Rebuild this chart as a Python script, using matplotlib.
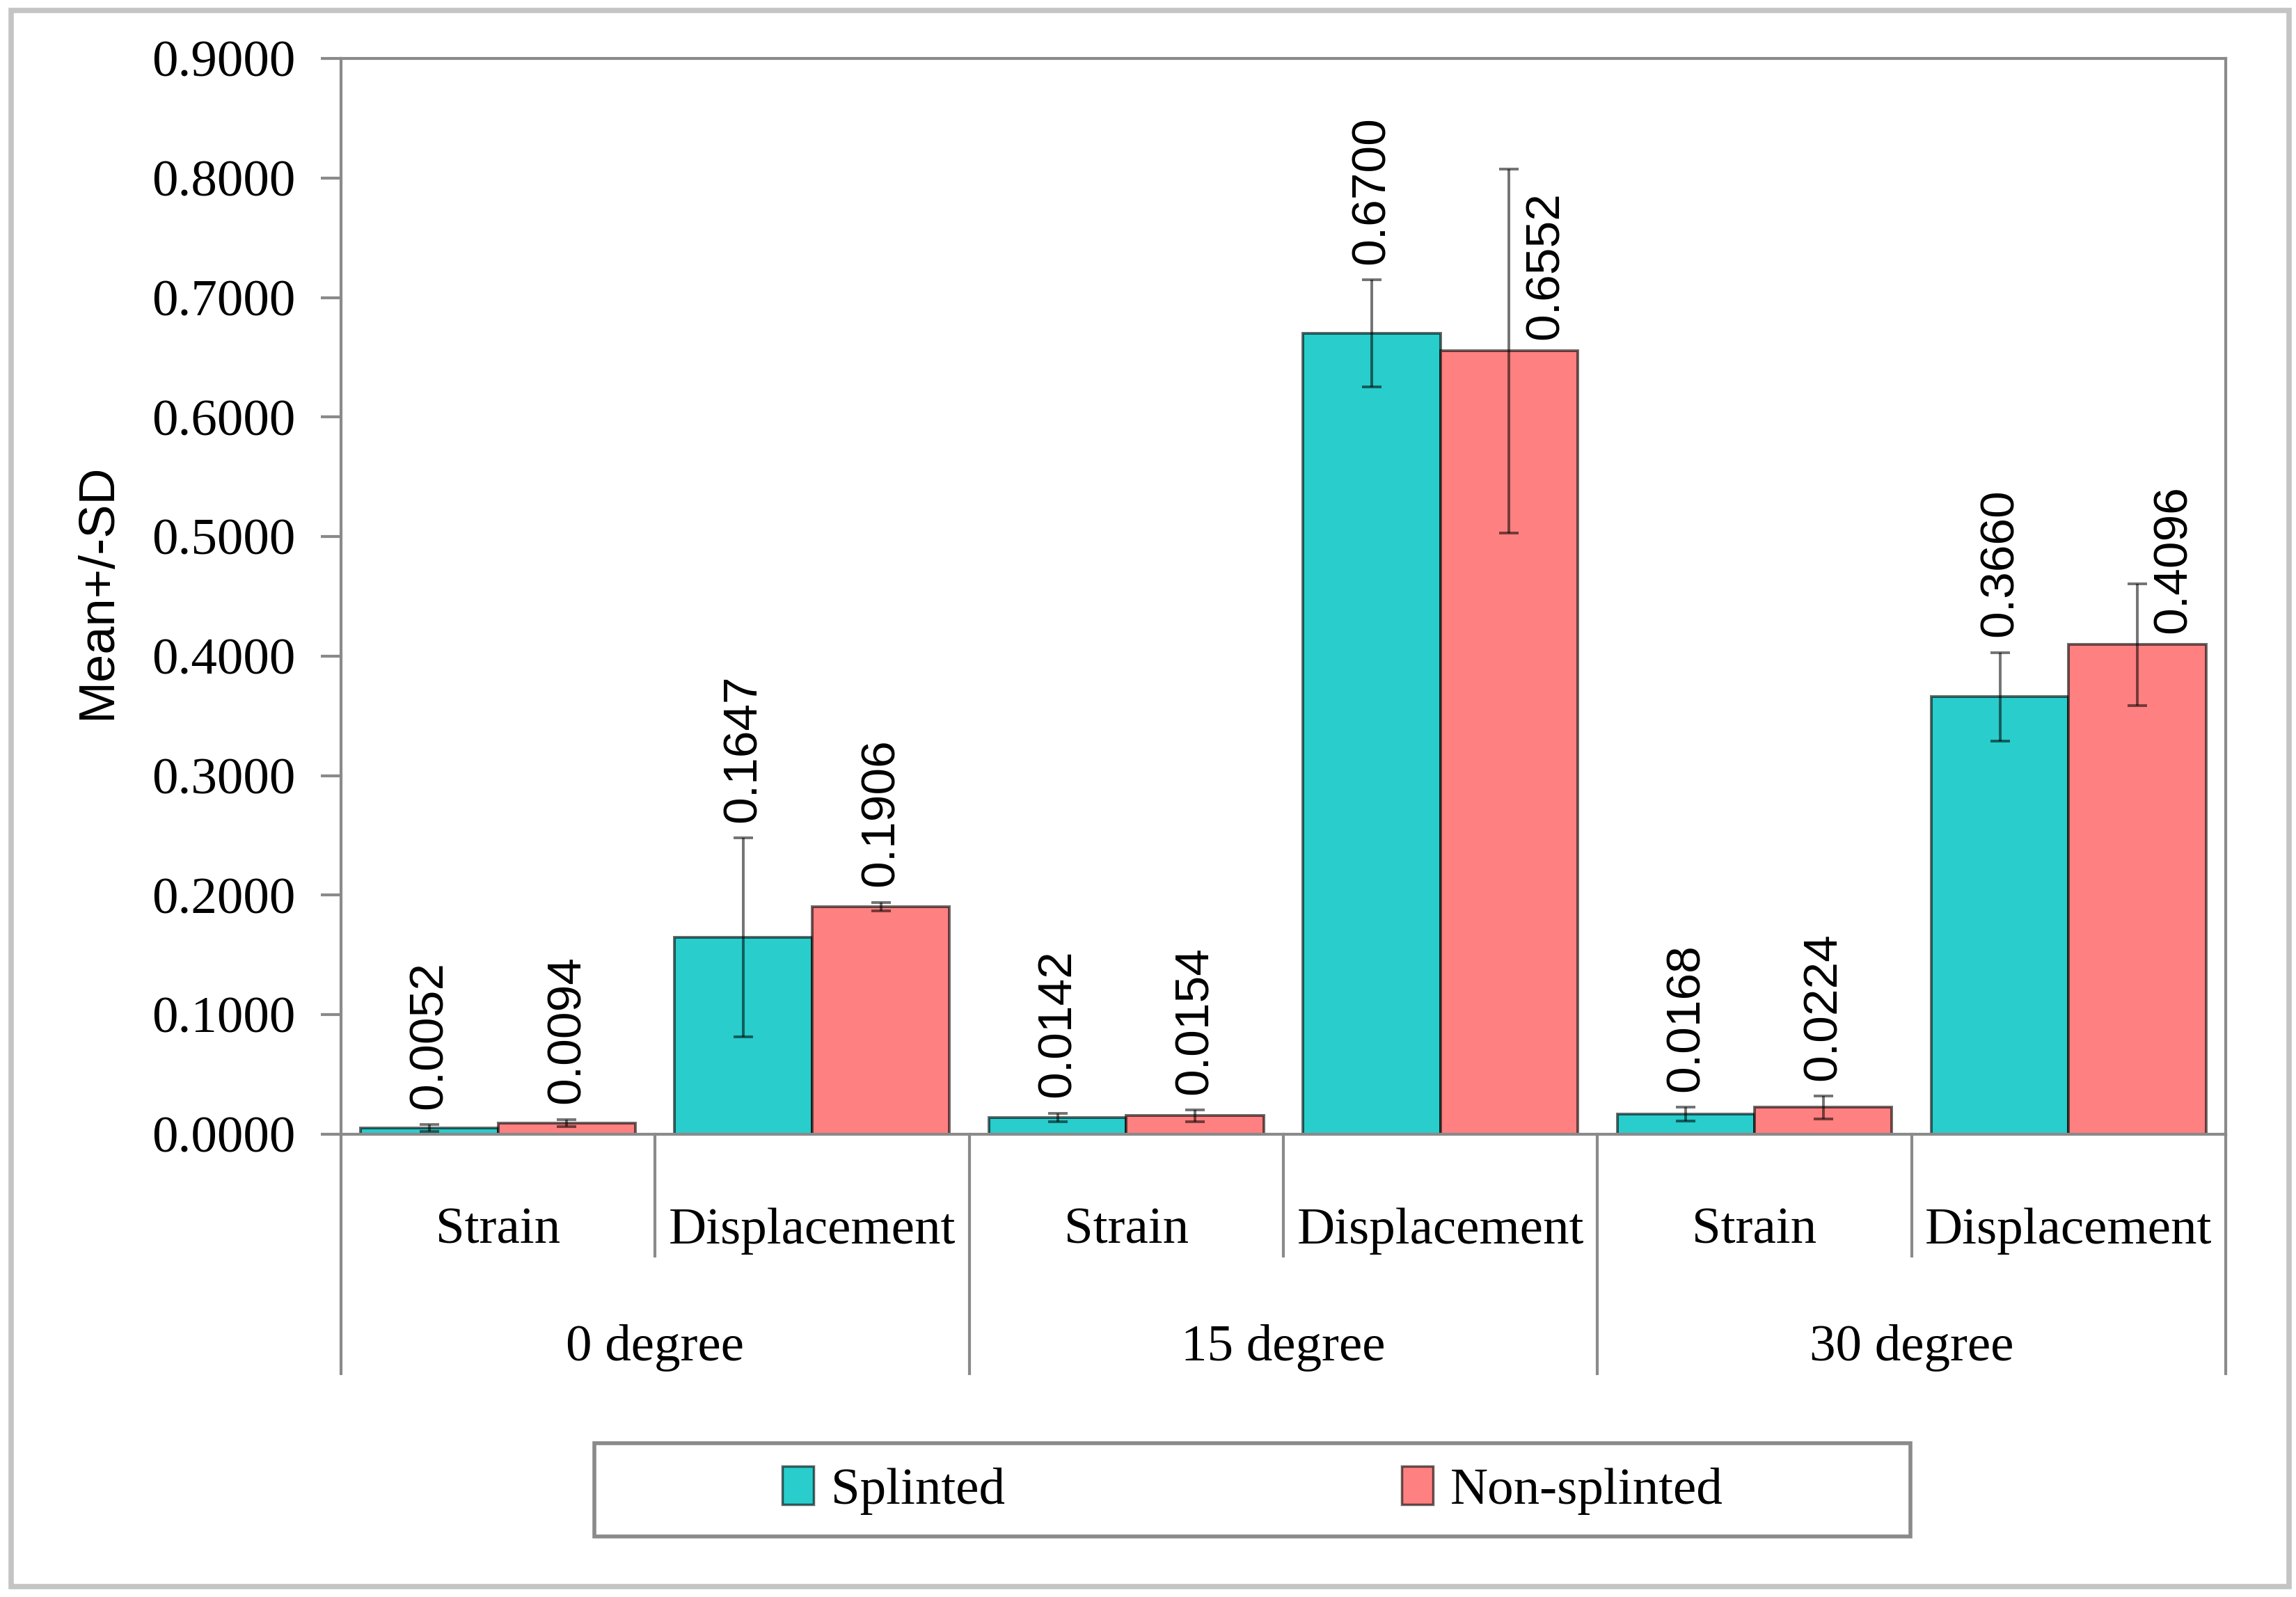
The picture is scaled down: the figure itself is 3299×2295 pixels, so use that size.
import matplotlib
matplotlib.use("Agg")
import matplotlib.pyplot as plt
from matplotlib.patches import Rectangle, Patch
import numpy as np

# data
measures = ["Strain", "Displacement", "Strain", "Displacement", "Strain", "Displacement"]
groups = ["0 degree", "15 degree", "30 degree"]
splinted = [0.0052, 0.1647, 0.0142, 0.6700, 0.0168, 0.3660]
splinted_sd = [0.0030, 0.0830, 0.0035, 0.0450, 0.0060, 0.0370]
non_splinted = [0.0094, 0.1906, 0.0154, 0.6552, 0.0224, 0.4096]
non_splinted_sd = [0.0030, 0.0035, 0.0050, 0.1520, 0.0095, 0.0510]
y_ticks = [0.0, 0.1, 0.2, 0.3, 0.4, 0.5, 0.6, 0.7, 0.8, 0.9]

teal = "#28CDCC"
salmon = "#FF8080"
grey = "#8a8a8a"
serif = ["Liberation Serif", "DejaVu Serif"]
sans = ["Liberation Sans", "DejaVu Sans"]

fig = plt.figure(figsize=(32.99, 22.95), dpi=100)
ax = fig.add_axes([0.1485, 0.2898, 0.8209, 0.6736])

x = np.arange(len(measures))
w = 0.4375
edge = (0, 0, 0, 0.6)
err = (0, 0, 0, 0.55)
ax.bar(x - w / 2, splinted, w, color=teal, edgecolor=edge, linewidth=2.8, zorder=2)
ax.bar(x + w / 2, non_splinted, w, color=salmon, edgecolor=edge, linewidth=2.8, zorder=2)
ax.errorbar(x - w / 2, splinted, yerr=splinted_sd, fmt="none", ecolor=err,
            elinewidth=2.8, capsize=10, capthick=2.8, zorder=3)
ax.errorbar(x + w / 2, non_splinted, yerr=non_splinted_sd, fmt="none", ecolor=err,
            elinewidth=2.8, capsize=10, capthick=2.8, zorder=3)

# value labels (two of them were moved beside the error bar in the original)
for xi, v, s in zip(x - w / 2, splinted, splinted_sd):
    ax.annotate(f"{v:.4f}", (xi, v + s), xytext=(0, 16), textcoords="offset points",
                rotation=90, ha="center", va="bottom", fontsize=50, family=sans)
beside = [False, False, False, True, False, True]
for xi, v, s, b in zip(x + w / 2, non_splinted, non_splinted_sd, beside):
    if b:
        ax.annotate(f"{v:.4f}", (xi + 0.115, v), xytext=(0, 12), textcoords="offset points",
                    rotation=90, ha="center", va="bottom", fontsize=50, family=sans)
    else:
        ax.annotate(f"{v:.4f}", (xi, v + s), xytext=(0, 16), textcoords="offset points",
                    rotation=90, ha="center", va="bottom", fontsize=50, family=sans)

ax.set_xlim(-0.5, len(measures) - 0.5)
ax.set_ylim(0, 0.9)
ax.set_yticks(y_ticks)
ax.set_yticklabels([f"{t:.4f}" for t in y_ticks], fontsize=54, family=serif)
ax.tick_params(axis="y", length=21, width=3, color=grey, pad=26)
ax.set_xticks([])
for sp in ax.spines.values():
    sp.set_color(grey)
    sp.set_linewidth(3)

# two-level category axis
tr = ax.get_xaxis_transform()
for i in range(len(measures) + 1):
    bottom = -0.2225 if i % 2 == 0 else -0.113
    ax.plot([i - 0.5, i - 0.5], [0, bottom], color=grey, lw=3, transform=tr, clip_on=False)
for i, m in enumerate(measures):
    ax.text(i, -0.1016, m, transform=tr, ha="center", va="baseline", fontsize=54, family=serif)
for j, g in enumerate(groups):
    ax.text(2 * j + 0.5, -0.210, g, transform=tr, ha="center", va="baseline", fontsize=54, family=serif)

fig.text(0.0425, 0.6295, "Mean+/-SD", rotation=90, ha="center", va="center", fontsize=52, family=sans)

# legend box
fig.patches.append(Rectangle((0.2589, 0.0379), 0.5731, 0.0584, transform=fig.transFigure,
                             fill=False, edgecolor=grey, linewidth=4))
handles = [Patch(facecolor=teal, edgecolor=edge, linewidth=2.5),
           Patch(facecolor=salmon, edgecolor=edge, linewidth=2.5)]
fig.legend(handles, ["Splinted", "Non-splinted"], loc="center", bbox_to_anchor=(0.5456, 0.0667),
           ncol=2, frameon=False, prop={"family": serif, "size": 54}, handlelength=0.6,
           handleheight=0.75, handletextpad=0.33, columnspacing=7.6)

# outer chart border
fig.patches.append(Rectangle((0.005, 0.0065), 0.992, 0.987, transform=fig.transFigure,
                             fill=False, edgecolor="#c4c4c4", linewidth=5.5))

fig.savefig("out.png", dpi=100, facecolor="white")
